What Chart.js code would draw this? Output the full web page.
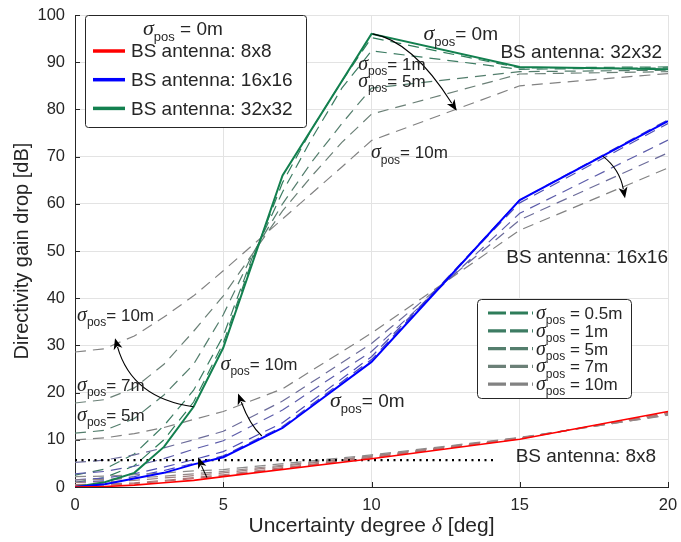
<!DOCTYPE html>
<html><head><meta charset="utf-8">
<script src="https://cdn.jsdelivr.net/npm/chart.js@4/dist/chart.umd.min.js"></script>
<style>html,body{margin:0;padding:0;background:#fff}#wrap{width:681px;height:542px}</style>
</head><body><div id="wrap"><canvas id="c" width="681" height="542"></canvas></div>
<script>
// ---------- data ----------
const xTicks = [0, 5, 10, 15, 20];
const yTicks = [0, 10, 20, 30, 40, 50, 60, 70, 80, 90, 100];
const sigmaLabels = ['0.5m', '1m', '5m', '7m', '10m'];
const antennaLabels = ['BS antenna: 8x8', 'BS antenna: 16x16', 'BS antenna: 32x32'];
const xTitleParts = ['Uncertainty degree ', '\u03B4', ' [deg]'];
const yTitle = 'Directivity gain drop [dB]';

// solid (sigma_pos = 0m)
const x8Solid  = [0, 1, 2, 3, 4, 5, 10, 15, 20];
const y8Solid  = [0, 0.1, 0.4, 0.9, 1.4, 2.2, 6.0, 10.1, 16.0];
const x16Solid = [0, 1, 2, 3, 4, 5, 7, 10, 15, 20];
const y16Solid = [0, 0.6, 1.8, 3.0, 4.8, 6.3, 12.5, 26.5, 60.8, 77.5];
const x32Solid = [0, 1, 2, 3, 4, 5, 7, 10, 15, 20];
const y32Solid = [0, 1.0, 3.0, 8.5, 17.0, 29.5, 66.0, 96.0, 89.0, 88.5];

// dashed, 32x32
const x32Dash = [0, 1, 2, 3, 4, 5, 6, 7, 8, 9, 10, 15, 20];
const y32s05 = [1.0, 2.0, 4.5, 10.0, 18.0, 30.5, 48.5, 64.5, 76.0, 86.0, 95.2, 88.8, 89.0];
const y32s1  = [2.5, 3.8, 7.0, 13.0, 20.5, 32.0, 49.0, 62.5, 74.0, 84.5, 92.4, 88.5, 88.8];
const y32s5  = [11.4, 12.0, 14.5, 19.5, 26.0, 36.5, 49.5, 60.0, 69.0, 77.0, 84.5, 88.0, 88.3];
const y32s7  = [17.8, 18.5, 21.0, 26.0, 33.0, 40.5, 49.5, 58.5, 66.0, 73.0, 79.0, 87.5, 88.0];
const y32s10 = [28.6, 29.3, 32.0, 36.0, 40.5, 45.8, 51.3, 56.8, 62.3, 67.8, 73.4, 85.0, 87.6];

// dashed, 16x16
const x16Dash = [0, 1, 2, 3, 4, 5, 7, 10, 15, 20];
const y16s05 = [1.0, 1.3, 2.2, 3.5, 5.0, 6.6, 12.8, 27.0, 60.8, 77.8];
const y16s1  = [1.5, 1.9, 2.8, 4.2, 5.8, 7.5, 13.6, 27.6, 60.2, 77.0];
const y16s5  = [2.8, 3.3, 4.4, 6.0, 8.0, 9.8, 16.3, 28.7, 58.0, 73.5];
const y16s7  = [5.2, 5.7, 6.8, 8.3, 10.0, 11.8, 18.2, 30.4, 56.6, 70.8];
const y16s10 = [10.0, 10.4, 11.3, 12.6, 14.3, 16.0, 20.8, 32.6, 54.4, 67.6];

// dashed, 8x8
const x8Dash = [0, 1, 2, 3, 4, 5, 10, 15, 20];
const y8s05 = [0.3, 0.4, 0.7, 1.2, 1.8, 2.4, 6.2, 10.2, 15.8];
const y8s1  = [0.5, 0.6, 0.9, 1.4, 2.0, 2.6, 6.3, 10.3, 15.6];
const y8s5  = [1.0, 1.1, 1.4, 1.9, 2.4, 3.0, 6.5, 10.4, 15.4];
const y8s7  = [1.5, 1.6, 1.9, 2.3, 2.8, 3.3, 6.6, 10.4, 15.3];
const y8s10 = [2.2, 2.3, 2.6, 3.0, 3.4, 3.7, 6.8, 10.5, 15.2];

// dotted reference line
const dottedX = [0, 14.2];
const dottedY = [5.7, 5.7];

// ---------- styles ----------
const solidColors = ['#ff0000', '#0000ff', '#13804f'];
const green = ['#2e7d5a', '#3d7c63', '#547e6d', '#6b8077', '#828282'];
const blue  = ['#4343c4', '#4d4db6', '#5c5caa', '#6c6c9a', '#828282'];
const reddish = ['#b86a6a', '#aa7777', '#9f8080', '#958787', '#8c8c8c'];
const FONT = "'Liberation Sans', Arial, sans-serif";
const SERIF = "'Liberation Serif', 'DejaVu Serif', serif";

const pts = (xs, ys) => xs.map((x, i) => ({x: x, y: ys[i]}));
const dashSet = (xs, arrs, cols, tag) => arrs.map((ys, i) => ({
  label: tag + ' sigma ' + sigmaLabels[i], data: pts(xs, ys), borderColor: cols[i],
  borderWidth: 1.2, borderDash: [11, 7], pointRadius: 0, fill: false, order: 2
}));

const datasets = [
  {label: antennaLabels[0], data: pts(x8Solid, y8Solid), borderColor: solidColors[0], borderWidth: 1.6, pointRadius: 0, order: 0},
  {label: antennaLabels[1], data: pts(x16Solid, y16Solid), borderColor: solidColors[1], borderWidth: 2, pointRadius: 0, order: 0},
  {label: antennaLabels[2], data: pts(x32Solid, y32Solid), borderColor: solidColors[2], borderWidth: 2, pointRadius: 0, order: 0},
  ...dashSet(x8Dash, [y8s05, y8s1, y8s5, y8s7, y8s10], reddish, '8x8'),
  ...dashSet(x16Dash, [y16s05, y16s1, y16s5, y16s7, y16s10], blue, '16x16'),
  ...dashSet(x32Dash, [y32s05, y32s1, y32s5, y32s7, y32s10], green, '32x32'),
  {label: 'ref', data: pts(dottedX, dottedY), borderColor: '#000', borderWidth: 2.2, borderDash: [2, 4.5], pointRadius: 0, order: 1}
];

// ---------- annotations (data coordinates) ----------
const textNotes = [
  {x: 11.75, y: 94.6, sigma: true, rest: '= 0m', size: 19, align: 'left'},
  {x: 19.8, y: 90.9, sigma: false, rest: 'BS antenna: 32x32', size: 19, align: 'right'},
  {x: 9.55, y: 88.3, sigma: true, rest: '= 1m', size: 17, align: 'left'},
  {x: 9.55, y: 84.8, sigma: true, rest: '= 5m', size: 17, align: 'left'},
  {x: 9.98, y: 69.6, sigma: true, rest: '= 10m', size: 17, align: 'left'},
  {x: 20.0, y: 47.5, sigma: false, rest: 'BS antenna: 16x16', size: 19, align: 'right'},
  {x: 0.07, y: 35.2, sigma: true, rest: '= 10m', size: 17, align: 'left'},
  {x: 0.07, y: 20.4, sigma: true, rest: '= 7m', size: 17, align: 'left'},
  {x: 0.07, y: 14.0, sigma: true, rest: '= 5m', size: 17, align: 'left'},
  {x: 4.91, y: 24.8, sigma: true, rest: '= 10m', size: 17, align: 'left'},
  {x: 8.6, y: 16.9, sigma: true, rest: '= 0m', size: 19, align: 'left'},
  {x: 19.6, y: 5.4, sigma: false, rest: 'BS antenna: 8x8', size: 19, align: 'right'}
];
// arrows: start, control, end (data coords)
const arrows = [
  {p0: [10.04, 96], c: [11.37, 94.55], p2: [12.87, 79.7]},
  {p0: [4.0, 17], c: [1.93, 18.75], p2: [1.35, 31.5]},
  {p0: [6.3, 10.8], c: [5.9, 13.1], p2: [5.5, 19.8]},
  {p0: [4.45, 2.0], c: [4.3, 4.0], p2: [4.15, 6.3]},
  {p0: [17.8, 70.1], c: [18.37, 67.35], p2: [18.55, 61.2]}
];

function drawSigmaText(ctx, x, y, rest, size, align, sigma, space) {
  const sFont = 'italic ' + Math.round(size * 1.15) + 'px ' + SERIF;
  const subFont = Math.round(size * 0.68) + 'px ' + FONT;
  const mFont = size + 'px ' + FONT;
  ctx.textBaseline = 'alphabetic';
  ctx.textAlign = 'left';
  let ws = 0, wp = 0;
  const restTxt = (space ? ' ' : '') + rest;
  if (sigma) {
    ctx.font = sFont; ws = ctx.measureText('\u03C3').width;
    ctx.font = subFont; wp = ctx.measureText('pos').width;
  }
  ctx.font = mFont; const wr = ctx.measureText(restTxt).width;
  const w = ws + wp + wr;
  const x0 = align === 'right' ? x - w : (align === 'center' ? x - w / 2 : x);
  ctx.fillStyle = '#262626';
  if (sigma) {
    ctx.font = sFont; ctx.fillText('\u03C3', x0, y);
    ctx.font = subFont; ctx.fillText('pos', x0 + ws, y + size * 0.3);
  }
  ctx.font = mFont; ctx.fillText(restTxt, x0 + ws + wp, y);
}

const overlay = {
  id: 'overlay',
  beforeDatasetsDraw(chart) {
    const ctx = chart.ctx, xs = chart.scales.x, ys = chart.scales.y, a = chart.chartArea;
    ctx.save(); ctx.strokeStyle = '#262626'; ctx.lineWidth = 1;
    xTicks.forEach(t => { const px = Math.round(xs.getPixelForValue(t)) + 0.5;
      ctx.beginPath(); ctx.moveTo(px, a.bottom); ctx.lineTo(px, a.bottom - 5); ctx.stroke(); });
    yTicks.forEach(t => { const py = Math.round(ys.getPixelForValue(t)) + 0.5;
      ctx.beginPath(); ctx.moveTo(a.left, py); ctx.lineTo(a.left + 5, py); ctx.stroke(); });
    ctx.restore();
  },
  afterDatasetsDraw(chart) {
    const ctx = chart.ctx, xs = chart.scales.x, ys = chart.scales.y;
    const P = p => [xs.getPixelForValue(p[0]), ys.getPixelForValue(p[1])];
    ctx.save();
    arrows.forEach(ar => {
      const p0 = P(ar.p0), c = P(ar.c), p2 = P(ar.p2);
      ctx.strokeStyle = '#000'; ctx.lineWidth = 1.1; ctx.setLineDash([]);
      const dx = p2[0] - c[0], dy = p2[1] - c[1], L = Math.hypot(dx, dy);
      const ux = dx / L, uy = dy / L, hl = 11, hw = 4.5;
      const bx = p2[0] - ux * hl, by = p2[1] - uy * hl;
      ctx.beginPath(); ctx.moveTo(p0[0], p0[1]); ctx.quadraticCurveTo(c[0], c[1], bx + ux * 2, by + uy * 2); ctx.stroke();
      ctx.fillStyle = '#000';
      ctx.beginPath(); ctx.moveTo(p2[0], p2[1]);
      ctx.lineTo(bx - uy * hw, by + ux * hw);
      ctx.lineTo(bx + ux * 3, by + uy * 3);
      ctx.lineTo(bx + uy * hw, by - ux * hw);
      ctx.closePath(); ctx.fill();
    });
    textNotes.forEach(t => {
      drawSigmaText(ctx, xs.getPixelForValue(t.x), ys.getPixelForValue(t.y), t.rest, t.size, t.align, t.sigma, false);
    });
    ctx.restore();
  },
  afterDraw(chart) {
    const ctx = chart.ctx, a = chart.chartArea;
    ctx.save();
    // x axis title with italic delta
    const tf = '21px ' + FONT, df = 'italic 22px ' + SERIF;
    ctx.font = tf; const w1 = ctx.measureText(xTitleParts[0]).width, w3 = ctx.measureText(xTitleParts[2]).width;
    ctx.font = df; const w2 = ctx.measureText(xTitleParts[1]).width;
    let tx = (a.left + a.right) / 2 - (w1 + w2 + w3) / 2; const ty = a.bottom + 45;
    ctx.fillStyle = '#262626'; ctx.textBaseline = 'alphabetic'; ctx.textAlign = 'left';
    ctx.font = tf; ctx.fillText(xTitleParts[0], tx, ty);
    ctx.font = df; ctx.fillText(xTitleParts[1], tx + w1, ty);
    ctx.font = tf; ctx.fillText(xTitleParts[2], tx + w1 + w2, ty);

    const rr = (x, y, w, h, r) => { ctx.beginPath(); ctx.moveTo(x + r, y); ctx.lineTo(x + w - r, y);
      ctx.arcTo(x + w, y, x + w, y + r, r); ctx.lineTo(x + w, y + h - r); ctx.arcTo(x + w, y + h, x + w - r, y + h, r);
      ctx.lineTo(x + r, y + h); ctx.arcTo(x, y + h, x, y + h - r, r); ctx.lineTo(x, y + r); ctx.arcTo(x, y, x + r, y, r); ctx.closePath(); };
    // legend 1 (top-left)
    const L1x = a.left + 10, L1y = a.top;
    rr(L1x + 0.5, L1y + 0.5, 221, 112, 3);
    ctx.fillStyle = '#fff'; ctx.fill(); ctx.strokeStyle = '#262626'; ctx.lineWidth = 1; ctx.stroke();
    drawSigmaText(ctx, L1x + 58, L1y + 20, '= 0m', 19, 'left', true, true);
    antennaLabels.forEach((lab, i) => {
      const yy = L1y + 36 + i * 28.7;
      ctx.strokeStyle = solidColors[i]; ctx.lineWidth = 3.5; ctx.setLineDash([]);
      ctx.beginPath(); ctx.moveTo(L1x + 8, yy); ctx.lineTo(L1x + 40, yy); ctx.stroke();
      ctx.fillStyle = '#262626'; ctx.font = '19px ' + FONT; ctx.textBaseline = 'middle'; ctx.textAlign = 'left';
      ctx.fillText(lab, L1x + 46, yy + 1);
    });
    // legend 2 (bottom-right)
    const L2x = a.right - 191, L2y = a.top + 284;
    rr(L2x + 0.5, L2y + 0.5, 154, 99, 4);
    ctx.fillStyle = '#fff'; ctx.fill(); ctx.strokeStyle = '#262626'; ctx.lineWidth = 1; ctx.stroke();
    sigmaLabels.forEach((lab, i) => {
      const yy = L2y + 14 + i * 17.8;
      ctx.strokeStyle = green[i]; ctx.lineWidth = 3.2; ctx.setLineDash([18, 4]);
      ctx.beginPath(); ctx.moveTo(L2x + 11, yy); ctx.lineTo(L2x + 56, yy); ctx.stroke();
      ctx.setLineDash([]);
      drawSigmaText(ctx, L2x + 59, yy + 6, '= ' + lab, 17, 'left', true, true);
    });
    ctx.restore();
  }
};

new Chart(document.getElementById('c'), {
  type: 'line',
  data: {datasets: datasets},
  options: {
    responsive: false, animation: false, devicePixelRatio: 1,
    layout: {padding: {left: 0, top: 15, right: 13, bottom: 0}},
    plugins: {legend: {display: false}, tooltip: {enabled: false}},
    elements: {line: {tension: 0}},
    scales: {
      x: {
        type: 'linear', min: 0, max: 20,
        afterBuildTicks: s => { s.ticks = xTicks.map(v => ({value: v})); },
        afterFit: s => { s.height = 55; s.paddingLeft = 0; s.paddingRight = 0; },
        grid: {color: '#e3e3e3', drawTicks: false},
        border: {color: '#262626', width: 1},
        ticks: {color: '#262626', font: {family: FONT, size: 16.5}, padding: 9, maxRotation: 0},
        title: {display: false}
      },
      y: {
        type: 'linear', min: 0, max: 100,
        afterBuildTicks: s => { s.ticks = yTicks.map(v => ({value: v})); },
        afterFit: s => { s.width = 75; s.paddingTop = 0; s.paddingBottom = 0; },
        grid: {color: '#e3e3e3', drawTicks: false},
        border: {color: '#262626', width: 1},
        ticks: {color: '#262626', font: {family: FONT, size: 16.5}, padding: 10},
        title: {display: true, text: yTitle, color: '#262626', font: {family: FONT, size: 20}, padding: {top: 10, bottom: 0}}
      }
    }
  },
  plugins: [overlay]
});
</script>
</body></html>
